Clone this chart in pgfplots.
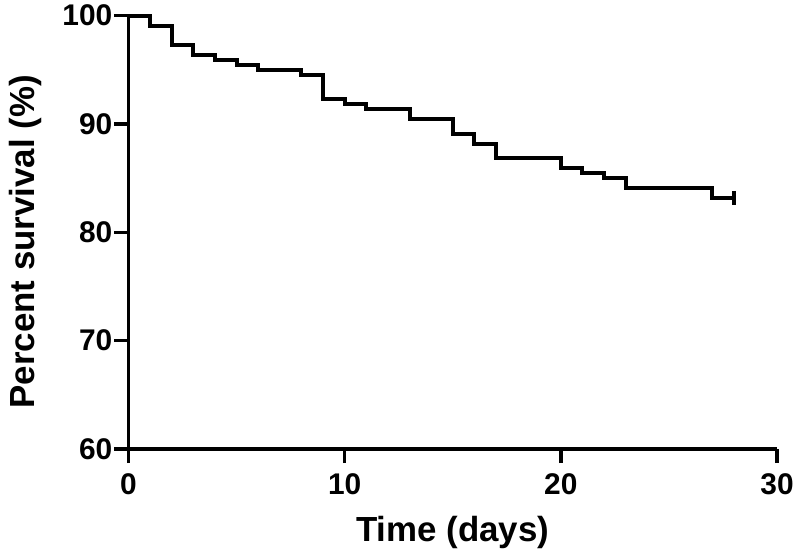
\documentclass[border=0pt]{standalone}
\usepackage{pgfplots}
\pgfplotsset{compat=1.18}
\usepackage{fontspec}
\setmainfont{Liberation Sans}
\begin{document}
\begin{tikzpicture}[x=1bp,y=1bp]
\begin{axis}[
  name=ax,
  at={(0,0)}, anchor=origin,
  scale only axis,
  width=648.5bp, height=433.3bp,
  xmin=0, xmax=30, ymin=60, ymax=100,
  axis x line=bottom, axis y line=left,
  axis line style={line width=3.5bp, -},
  every tick/.style={line width=3.5bp, black},
  tick align=outside,
  major tick length=14bp,
  xtick={0,10,20,30}, ytick={60,70,80,90,100},
  minor tick num=0,
  /pgf/number format/assume math mode=true,
  tick label style={font=\fontsize{30}{36}\selectfont\bfseries},
  xticklabel style={inner sep=0pt, yshift=-10bp},
  yticklabel style={inner sep=0pt, xshift=-2bp},
  xlabel={Time (days)},
  ylabel={Percent survival (\%)},
  xlabel style={font=\fontsize{35}{42}\selectfont\bfseries, at={(axis description cs:0.5,0)}, anchor=base, yshift=-93bp},
  ylabel style={font=\fontsize{35}{42}\selectfont\bfseries, at={(axis description cs:-0.1596,0.478)}, anchor=center},
  clip=false,
]
\addplot[const plot, line width=4bp, black] coordinates {
(0,100) (1,99.09) (2,97.27) (3,96.36) (4,95.91) (5,95.45) (6,95.00)
(8,94.55) (9,92.27) (10,91.82) (11,91.36) (13,90.45) (15,89.09)
(16,88.18) (17,86.82) (20,85.91) (21,85.45) (22,85.00) (23,84.09)
(27,83.18) (28,83.18)
};
\addplot[only marks, mark=|, mark size=7bp, mark options={line width=3.5bp, black}] coordinates {(28,83.18)};
\end{axis}
\pgfresetboundingbox
\useasboundingbox (-128.5,-109) rectangle (671.5,449);
\end{tikzpicture}
\end{document}
